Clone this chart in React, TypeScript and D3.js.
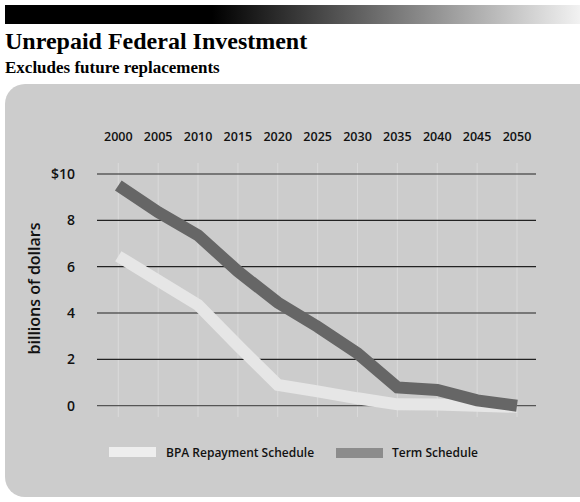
import React from "react";
import * as d3 from "d3";

const years = [2000, 2005, 2010, 2015, 2020, 2025, 2030, 2035, 2040, 2045, 2050];
const bpaRepayment = [6.45, 5.4, 4.35, 2.6, 0.9, 0.62, 0.32, 0.06, 0.05, 0.0, -0.05];
const termSchedule = [9.5, 8.35, 7.35, 5.8, 4.45, 3.41, 2.26, 0.79, 0.68, 0.23, 0.0];
const yTicks = [0, 2, 4, 6, 8, 10];
const seriesNames = ["BPA Repayment Schedule", "Term Schedule"];

const W = 580;
const H = 502;

export default function App() {
  const x = d3.scaleLinear().domain([2000, 2050]).range([118.3, 517]);
  const y = d3.scaleLinear().domain([0, 10]).range([405.7, 174]);
  const line = d3
    .line<number>()
    .x((_, i) => x(years[i]))
    .y((d) => y(d))
    .curve(d3.curveLinear);

  const sans = "'Open Sans', 'DejaVu Sans', sans-serif";
  const serif = "'Liberation Serif', 'DejaVu Serif', serif";

  return (
    <svg
      width={W}
      height={H}
      style={{ position: "absolute", left: 0, top: 0, background: "#fff" }}
    >
      <defs>
        <linearGradient id="topbar" x1="0" x2="1" y1="0" y2="0">
          <stop offset="0" stopColor="#000" />
          <stop offset="0.36" stopColor="#000" />
          <stop offset="1" stopColor="#f2f2f2" />
        </linearGradient>
      </defs>
      <rect x={5} y={5} width={575} height={19} fill="url(#topbar)" />
      <text x={5} y={49} fontFamily={serif} fontWeight="bold" fontSize={24} fill="#000">
        Unrepaid Federal Investment
      </text>
      <text x={5} y={72.5} fontFamily={serif} fontWeight="bold" fontSize={17} fill="#000">
        Excludes future replacements
      </text>

      {/* panel */}
      <rect x={5} y={84} width={600} height={413} rx={20} ry={20} fill="#cccccc" />

      {/* vertical grid */}
      {years.map((yr) => (
        <line
          key={"v" + yr}
          x1={x(yr)}
          x2={x(yr)}
          y1={163}
          y2={417}
          stroke="#dadada"
          strokeWidth={1}
        />
      ))}
      {/* horizontal grid */}
      {yTicks.map((t) => (
        <line
          key={"h" + t}
          x1={97}
          x2={536}
          y1={y(t)}
          y2={y(t)}
          stroke={t === 0 ? "#555" : "#222"}
          strokeWidth={1.2}
        />
      ))}

      {/* year labels */}
      {years.map((yr) => (
        <text
          key={"yl" + yr}
          x={x(yr)}
          y={141}
          textAnchor="middle"
          fontFamily={sans}
          fontWeight={600}
          fontSize={12.5}
          fill="#111"
        >
          {yr}
        </text>
      ))}
      {/* y labels */}
      {yTicks.map((t) => (
        <text
          key={"tl" + t}
          x={75}
          y={y(t)}
          dy="0.36em"
          textAnchor="end"
          fontFamily={sans}
          fontWeight={600}
          fontSize={14}
          fill="#111"
        >
          {t === 10 ? "$10" : t}
        </text>
      ))}
      <text
        transform={`translate(39.5,${288.5}) rotate(-90)`}
        textAnchor="middle"
        fontFamily={sans}
        fontWeight={600}
        fontSize={16}
        fill="#111"
      >
        billions of dollars
      </text>

      {/* series */}
      <path
        d={line(bpaRepayment) || ""}
        fill="none"
        stroke="#e6e6e6"
        strokeWidth={12}
        strokeLinejoin="miter"
        strokeLinecap="butt"
      />
      <path
        d={line(termSchedule) || ""}
        fill="none"
        stroke="#666666"
        strokeWidth={12}
        strokeLinejoin="miter"
        strokeLinecap="butt"
      />

      {/* legend */}
      <rect x={109} y={447} width={47} height={10} fill="#eeeeee" />
      <text x={166} y={456.5} fontFamily={sans} fontWeight={600} fontSize={12} fill="#111">
        {seriesNames[0]}
      </text>
      <rect x={336} y={448} width={47} height={10} fill="#8c8c8c" />
      <text x={392} y={456.5} fontFamily={sans} fontWeight={600} fontSize={12} fill="#111">
        {seriesNames[1]}
      </text>
    </svg>
  );
}
